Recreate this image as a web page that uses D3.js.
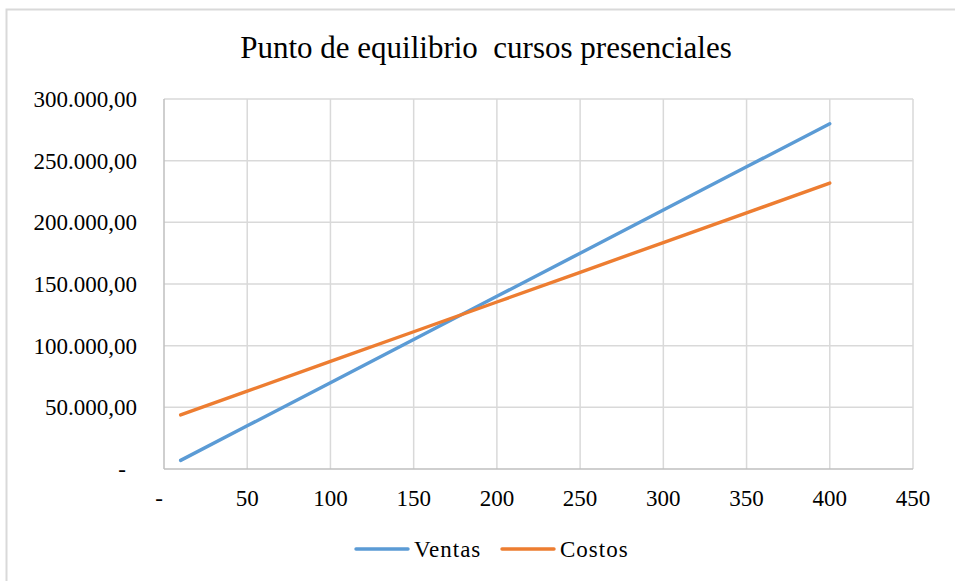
<!DOCTYPE html>
<html>
<head>
<meta charset="utf-8">
<script src="https://cdn.jsdelivr.net/npm/d3@7"></script>
<style>
  html, body { margin: 0; padding: 0; background: #fff; }
  svg { display: block; }
  text { font-family: "Liberation Serif", "Times New Roman", serif; fill: #000; white-space: pre; }
</style>
</head>
<body>
<svg id="chart" width="955" height="581"></svg>
<script>
// Units sold
const unidades = [10, 50, 100, 150, 200, 250, 300, 350, 400];
// Revenue (700 per unit)
const ventas = [7000, 35000, 70000, 105000, 140000, 175000, 210000, 245000, 280000];
// Total cost (fixed + variable)
const costos = [43820, 63100, 87200, 111300, 135400, 159500, 183600, 207700, 231800];

const xTicks = [0, 50, 100, 150, 200, 250, 300, 350, 400, 450];
const yTicks = [0, 50000, 100000, 150000, 200000, 250000, 300000];

const titulo = "Punto de equilibrio  cursos presenciales";
const series = [
  { name: "Ventas", values: ventas, color: "#5b9bd5" },
  { name: "Costos", values: costos, color: "#ed7d31" }
];

const svg = d3.select("#chart");

// chart frame
svg.append("rect")
  .attr("x", 6.5).attr("y", 9.5)
  .attr("width", 960).attr("height", 590)
  .attr("fill", "#fff").attr("stroke", "#d9d9d9").attr("stroke-width", 2);

const plot = { left: 164, right: 913, top: 99, bottom: 469 };

const x = d3.scaleLinear().domain([0, 450]).range([plot.left, plot.right]);
const y = d3.scaleLinear().domain([0, 300000]).range([plot.bottom, plot.top]);

// number format: 300.000,00 ; zero shown as "-"
const es = d3.formatLocale({ decimal: ",", thousands: ".", grouping: [3], currency: ["", ""] });
const fy = v => v === 0 ? "-" : es.format(",.2f")(v);
const fx = v => v === 0 ? "-" : String(v);

// gridlines
svg.append("g")
  .selectAll("line").data(xTicks.filter(d => d > 0)).join("line")
  .attr("x1", d => x(d)).attr("x2", d => x(d))
  .attr("y1", plot.top).attr("y2", plot.bottom)
  .attr("stroke", "#d9d9d9").attr("stroke-width", 1.5);
svg.append("g")
  .selectAll("line").data(yTicks.filter(d => d > 0)).join("line")
  .attr("x1", plot.left).attr("x2", plot.right)
  .attr("y1", d => y(d)).attr("y2", d => y(d))
  .attr("stroke", "#d9d9d9").attr("stroke-width", 1.5);

// axes lines
svg.append("line")
  .attr("x1", plot.left).attr("x2", plot.right)
  .attr("y1", plot.bottom).attr("y2", plot.bottom)
  .attr("stroke", "#bfbfbf").attr("stroke-width", 1.5);
svg.append("line")
  .attr("x1", plot.left).attr("x2", plot.left)
  .attr("y1", plot.top).attr("y2", plot.bottom)
  .attr("stroke", "#bfbfbf").attr("stroke-width", 1.5);

// y tick labels
svg.append("g").selectAll("text").data(yTicks).join("text")
  .attr("x", d => d === 0 ? 126 : 137)
  .attr("y", d => y(d) + 8)
  .attr("text-anchor", "end")
  .attr("font-size", 23)
  .text(fy);

// x tick labels
svg.append("g").selectAll("text").data(xTicks).join("text")
  .attr("x", d => d === 0 ? x(d) - 5 : x(d))
  .attr("y", 506)
  .attr("text-anchor", "middle")
  .attr("font-size", 23)
  .text(fx);

// series lines
const line = d3.line()
  .x((d, i) => x(unidades[i]))
  .y(d => y(d));

svg.append("g").selectAll("path").data(series).join("path")
  .attr("d", s => line(s.values))
  .attr("fill", "none")
  .attr("stroke", s => s.color)
  .attr("stroke-width", 3.4)
  .attr("stroke-linecap", "round");

// title
svg.append("text")
  .attr("x", 486).attr("y", 58)
  .attr("text-anchor", "middle")
  .attr("font-size", 31)
  .text(titulo);

// legend
const legendX = [356, 502];
const lg = svg.append("g").selectAll("g").data(series).join("g")
  .attr("transform", (s, i) => `translate(${legendX[i]},549)`);
lg.append("line")
  .attr("x1", 0).attr("x2", 52).attr("y1", 0).attr("y2", 0)
  .attr("stroke", s => s.color).attr("stroke-width", 3.4)
  .attr("stroke-linecap", "round");
lg.append("text")
  .attr("x", 58).attr("y", 8)
  .attr("font-size", 23)
  .attr("letter-spacing", 1)
  .text(s => s.name);
</script>
</body>
</html>
